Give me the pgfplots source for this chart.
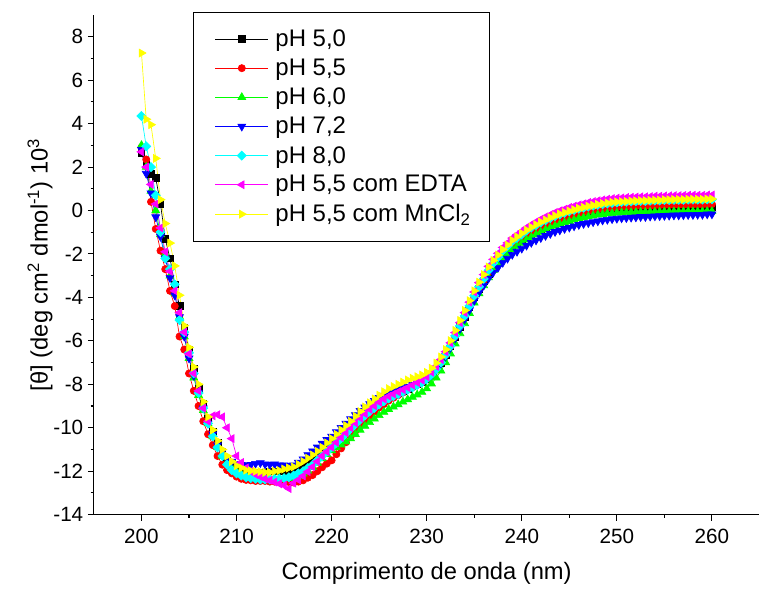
\documentclass[border=0pt]{standalone}
\usepackage{fontspec}
\setmainfont{Liberation Sans}
\usepackage{pgfplots}
\usepackage{pgfplotstable}
\pgfplotsset{compat=1.18}

\definecolor{cK}{RGB}{0,0,0}
\definecolor{cR}{RGB}{255,0,0}
\definecolor{cG}{RGB}{0,255,0}
\definecolor{cB}{RGB}{0,0,255}
\definecolor{cC}{RGB}{0,255,255}
\definecolor{cM}{RGB}{255,0,255}
\definecolor{cY}{RGB}{255,255,0}

% x = wavelength (nm); k = pH 5,0; r = pH 5,5; g = pH 6,0; b = pH 7,2;
% c = pH 8,0; m = pH 5,5 com EDTA; y = pH 5,5 com MnCl2
\pgfplotstableread{
x k r g b c m y
200 2.65 2.90 3.00 2.80 4.35 2.70 7.25
200.5 2.10 2.35 2.00 1.70 2.95 2.00 4.20
201 1.70 0.40 0.90 0.80 2.00 1.20 3.95
201.5 1.50 -0.85 0.00 -0.30 0.70 0.30 2.40
202 0.30 -1.85 -1.10 -1.20 -1.00 -0.80 0.50
202.5 -1.30 -2.70 -2.00 -2.20 -2.20 -1.90 -0.60
203 -2.20 -3.70 -3.00 -3.10 -2.70 -2.80 -1.50
203.5 -3.40 -4.40 -3.80 -3.90 -3.40 -3.70 -2.55
204 -4.40 -5.80 -4.90 -4.90 -5.05 -4.70 -3.90
204.5 -5.40 -6.40 -5.80 -5.80 -5.60 -5.60 -5.30
205 -6.40 -7.50 -6.80 -6.80 -6.55 -6.60 -6.30
205.5 -7.30 -8.30 -7.70 -7.60 -7.50 -7.50 -7.20
206 -8.20 -9.00 -8.50 -8.40 -8.40 -8.30 -8.00
206.5 -8.90 -9.70 -9.20 -9.10 -9.10 -9.10 -8.80
207 -9.60 -10.30 -9.80 -9.80 -9.80 -9.70 -9.50
207.5 -10.20 -10.80 -10.40 -10.30 -10.40 -9.45 -10.10
208 -10.70 -11.30 -10.90 -10.80 -10.90 -9.40 -10.60
208.5 -11.10 -11.70 -11.30 -11.10 -11.30 -9.50 -11.00
209 -11.40 -11.95 -11.60 -11.40 -11.70 -10.00 -11.30
209.5 -11.65 -12.10 -11.85 -11.55 -11.95 -10.50 -11.55
210 -11.80 -12.25 -12.00 -11.65 -12.10 -11.30 -11.75
210.5 -11.90 -12.35 -12.15 -11.70 -12.20 -11.60 -11.85
211 -12.00 -12.40 -12.20 -11.72 -12.28 -11.85 -11.95
211.5 -12.05 -12.42 -12.25 -11.70 -12.32 -12.00 -11.98
212 -12.05 -12.45 -12.30 -11.65 -12.35 -12.15 -12.00
212.5 -12.05 -12.45 -12.30 -11.62 -12.38 -12.25 -12.02
213 -12.05 -12.45 -12.32 -11.68 -12.38 -12.35 -12.05
213.5 -12.00 -12.48 -12.32 -11.70 -12.38 -12.42 -12.05
214 -12.00 -12.48 -12.33 -11.68 -12.36 -12.50 -12.00
214.5 -12.00 -12.50 -12.33 -11.72 -12.35 -12.58 -11.97
215 -11.98 -12.50 -12.33 -11.72 -12.32 -12.65 -11.90
215.5 -11.97 -12.50 -12.32 -11.75 -12.28 -12.80 -11.85
216 -11.95 -12.52 -12.30 -11.72 -12.20 -12.55 -11.80
216.5 -11.85 -12.48 -12.22 -11.60 -12.10 -12.40 -11.68
217 -11.70 -12.42 -12.12 -11.45 -12.00 -12.22 -11.55
217.5 -11.55 -12.30 -11.98 -11.25 -11.85 -12.02 -11.40
218 -11.40 -12.18 -11.82 -11.08 -11.70 -11.80 -11.25
218.5 -11.22 -12.00 -11.62 -10.90 -11.50 -11.55 -11.08
219 -11.05 -11.82 -11.42 -10.72 -11.30 -11.30 -10.90
219.5 -10.88 -11.65 -11.22 -10.55 -11.10 -11.10 -10.70
220 -10.70 -11.50 -11.05 -10.40 -10.90 -10.90 -10.50
220.5 -10.50 -11.22 -10.91 -10.20 -10.69 -10.68 -10.30
221 -10.30 -10.95 -10.78 -10.00 -10.48 -10.45 -10.10
221.5 -10.10 -10.67 -10.64 -9.80 -10.26 -10.23 -9.90
222 -9.90 -10.40 -10.50 -9.60 -10.05 -10.00 -9.70
222.5 -9.70 -10.15 -10.30 -9.41 -9.84 -9.78 -9.47
223 -9.50 -9.90 -10.10 -9.22 -9.63 -9.55 -9.25
223.5 -9.32 -9.67 -9.92 -9.06 -9.43 -9.35 -9.04
224 -9.15 -9.45 -9.75 -8.90 -9.25 -9.15 -8.85
224.5 -9.00 -9.26 -9.59 -8.76 -9.09 -8.99 -8.67
225 -8.85 -9.07 -9.43 -8.62 -8.93 -8.82 -8.50
225.5 -8.72 -8.91 -9.28 -8.51 -8.78 -8.68 -8.34
226 -8.60 -8.75 -9.15 -8.40 -8.65 -8.55 -8.20
226.5 -8.50 -8.62 -9.04 -8.32 -8.55 -8.45 -8.10
227 -8.40 -8.50 -8.93 -8.25 -8.45 -8.35 -8.00
227.5 -8.30 -8.38 -8.81 -8.17 -8.35 -8.25 -7.90
228 -8.20 -8.25 -8.70 -8.10 -8.25 -8.15 -7.80
228.5 -8.10 -8.14 -8.59 -8.02 -8.14 -8.04 -7.72
229 -8.00 -8.03 -8.48 -7.95 -8.03 -7.92 -7.65
229.5 -7.90 -7.91 -8.36 -7.87 -7.91 -7.81 -7.57
230 -7.75 -7.75 -8.20 -7.75 -7.75 -7.65 -7.45
230.5 -7.55 -7.55 -7.97 -7.56 -7.55 -7.44 -7.26
231 -7.30 -7.30 -7.70 -7.33 -7.30 -7.17 -7.02
231.5 -7.00 -7.00 -7.38 -7.04 -7.00 -6.86 -6.74
232 -6.65 -6.65 -7.00 -6.70 -6.65 -6.50 -6.40
232.5 -6.25 -6.25 -6.59 -6.31 -6.24 -6.09 -5.99
233 -5.80 -5.80 -6.13 -5.88 -5.77 -5.62 -5.52
233.5 -5.35 -5.35 -5.66 -5.44 -5.31 -5.16 -5.06
234 -4.90 -4.90 -5.20 -5.00 -4.85 -4.70 -4.60
234.5 -4.45 -4.44 -4.73 -4.58 -4.39 -4.22 -4.15
235 -4.00 -3.99 -4.25 -4.15 -3.92 -3.75 -3.70
235.5 -3.60 -3.58 -3.82 -3.78 -3.51 -3.32 -3.30
236 -3.25 -3.20 -3.45 -3.45 -3.15 -2.95 -2.95
236.5 -2.90 -2.84 -3.08 -3.13 -2.76 -2.57 -2.60
237 -2.60 -2.53 -2.75 -2.85 -2.42 -2.25 -2.30
237.5 -2.35 -2.27 -2.47 -2.63 -2.14 -1.97 -2.05
238 -2.10 -2.00 -2.20 -2.40 -1.85 -1.70 -1.80
238.5 -1.90 -1.80 -2.00 -2.21 -1.64 -1.49 -1.59
239 -1.70 -1.60 -1.80 -2.03 -1.42 -1.27 -1.37
239.5 -1.55 -1.45 -1.65 -1.89 -1.26 -1.11 -1.21
240 -1.40 -1.30 -1.50 -1.75 -1.10 -0.95 -1.05
240.5 -1.25 -1.15 -1.35 -1.61 -0.92 -0.79 -0.90
241 -1.12 -1.01 -1.23 -1.48 -0.79 -0.65 -0.77
241.5 -1.00 -0.89 -1.11 -1.37 -0.67 -0.52 -0.65
242 -0.88 -0.77 -0.99 -1.26 -0.55 -0.40 -0.53
242.5 -0.78 -0.67 -0.89 -1.16 -0.45 -0.29 -0.43
243 -0.68 -0.57 -0.80 -1.07 -0.35 -0.19 -0.33
243.5 -0.59 -0.48 -0.71 -0.98 -0.26 -0.09 -0.24
244 -0.51 -0.39 -0.63 -0.91 -0.18 -0.01 -0.16
244.5 -0.44 -0.32 -0.56 -0.84 -0.11 0.06 -0.09
245 -0.37 -0.25 -0.49 -0.78 -0.04 0.14 -0.02
245.5 -0.31 -0.19 -0.43 -0.72 0.02 0.20 0.04
246 -0.25 -0.13 -0.37 -0.66 0.08 0.26 0.10
246.5 -0.20 -0.08 -0.33 -0.61 0.13 0.31 0.15
247 -0.15 -0.03 -0.28 -0.57 0.18 0.37 0.20
247.5 -0.11 0.01 -0.24 -0.53 0.22 0.41 0.24
248 -0.07 0.05 -0.20 -0.49 0.26 0.45 0.28
248.5 -0.04 0.08 -0.17 -0.45 0.29 0.49 0.32
249 -0.01 0.11 -0.14 -0.42 0.32 0.52 0.35
249.5 0.01 0.13 -0.13 -0.39 0.35 0.55 0.38
250 0.03 0.15 -0.11 -0.37 0.37 0.57 0.40
250.5 0.04 0.17 -0.10 -0.35 0.39 0.58 0.41
251 0.05 0.18 -0.09 -0.34 0.40 0.60 0.42
251.5 0.06 0.19 -0.09 -0.32 0.41 0.61 0.44
252 0.07 0.20 -0.08 -0.31 0.43 0.62 0.45
252.5 0.08 0.21 -0.07 -0.29 0.44 0.63 0.46
253 0.08 0.21 -0.07 -0.29 0.44 0.63 0.46
253.5 0.09 0.22 -0.07 -0.27 0.45 0.64 0.47
254 0.10 0.24 -0.06 -0.26 0.46 0.66 0.48
254.5 0.10 0.24 -0.06 -0.25 0.46 0.66 0.48
255 0.11 0.25 -0.05 -0.24 0.48 0.67 0.50
255.5 0.11 0.25 -0.06 -0.23 0.48 0.67 0.50
256 0.12 0.26 -0.05 -0.22 0.49 0.68 0.51
256.5 0.12 0.26 -0.05 -0.22 0.49 0.68 0.51
257 0.12 0.26 -0.05 -0.21 0.49 0.69 0.51
257.5 0.13 0.28 -0.04 -0.20 0.50 0.70 0.52
258 0.13 0.28 -0.05 -0.20 0.50 0.70 0.52
258.5 0.13 0.28 -0.05 -0.19 0.50 0.70 0.52
259 0.13 0.28 -0.05 -0.19 0.50 0.70 0.52
259.5 0.14 0.29 -0.04 -0.17 0.51 0.71 0.53
260 0.14 0.29 -0.04 -0.17 0.51 0.71 0.53
}\cdspectra

\begin{document}
\begin{tikzpicture}
\begin{axis}[
  width=499.5pt, height=375pt, scale only axis,
  xmin=195, xmax=265, ymin=-14, ymax=9,
  axis x line*=bottom, axis y line*=left,
  axis line style={line width=0.8pt},
  xtick={200,210,...,260}, ytick={-14,-12,...,8},
  minor x tick num=1, minor y tick num=1,
  tick align=outside,
  major tick length=4.5pt, minor tick length=2.5pt,
  tick style={black, line width=0.8pt},
  /pgf/number format/assume math mode=true,
  tick label style={font=\fontsize{15.5}{15.5}\selectfont},
  xticklabel style={yshift=-3pt},
  xlabel={Comprimento de onda (nm)},
  ylabel={[θ] (deg cm\textsuperscript{2} dmol\textsuperscript{-1}) 10\textsuperscript{3}},
  label style={font=\fontsize{17.8}{17.8}\selectfont},
  xlabel style={at={(axis description cs:0.5,0)}, anchor=center, yshift=-44pt},
  ylabel style={at={(axis description cs:-0.081,0.5)}, anchor=center},
  legend cell align=left,
  legend image code/.code={%
    \draw[mark repeat=2,mark phase=2,#1] plot coordinates {(0pt,0pt) (20pt,0pt) (40pt,0pt)};
    \path (-4pt,0pt) (43pt,0pt);},
  legend style={at={(0.149,1.006)}, anchor=north west, draw=black, line width=0.6pt,
    font=\fontsize{18}{21}\selectfont, inner xsep=12pt, inner ysep=11pt, row sep=3.85pt},
  every axis plot/.append style={line width=0.5pt},
]
\addplot[color=cK, mark=square*, mark size=2.5pt, mark options={solid}] table[x=x, y=k]{\cdspectra};
\addlegendentry{pH 5,0}
\addplot[color=cR, mark=*, mark size=2.7pt, mark options={solid}] table[x=x, y=r]{\cdspectra};
\addlegendentry{pH 5,5}
\addplot[color=cG, mark=triangle*, mark size=3.4pt, mark options={solid}] table[x=x, y=g]{\cdspectra};
\addlegendentry{pH 6,0}
\addplot[color=cB, mark=triangle*, mark size=3.4pt, mark options={solid, rotate=180}] table[x=x, y=b]{\cdspectra};
\addlegendentry{pH 7,2}
\addplot[color=cC, mark=square*, mark size=2.4pt, mark options={solid, rotate=45}] table[x=x, y=c]{\cdspectra};
\addlegendentry{pH 8,0}
\addplot[color=cM, mark=triangle*, mark size=3.4pt, mark options={solid, rotate=90}] table[x=x, y=m]{\cdspectra};
\addlegendentry{pH 5,5 com EDTA}
\addplot[color=cY, mark=triangle*, mark size=3.4pt, mark options={solid, rotate=-90}] table[x=x, y=y]{\cdspectra};
\addlegendentry{pH 5,5 com MnCl\textsubscript{2}}
\end{axis}
\path (current axis.south west) ++(-70.5pt,-54pt) rectangle ++(570pt,440.25pt);
\end{tikzpicture}
\end{document}
